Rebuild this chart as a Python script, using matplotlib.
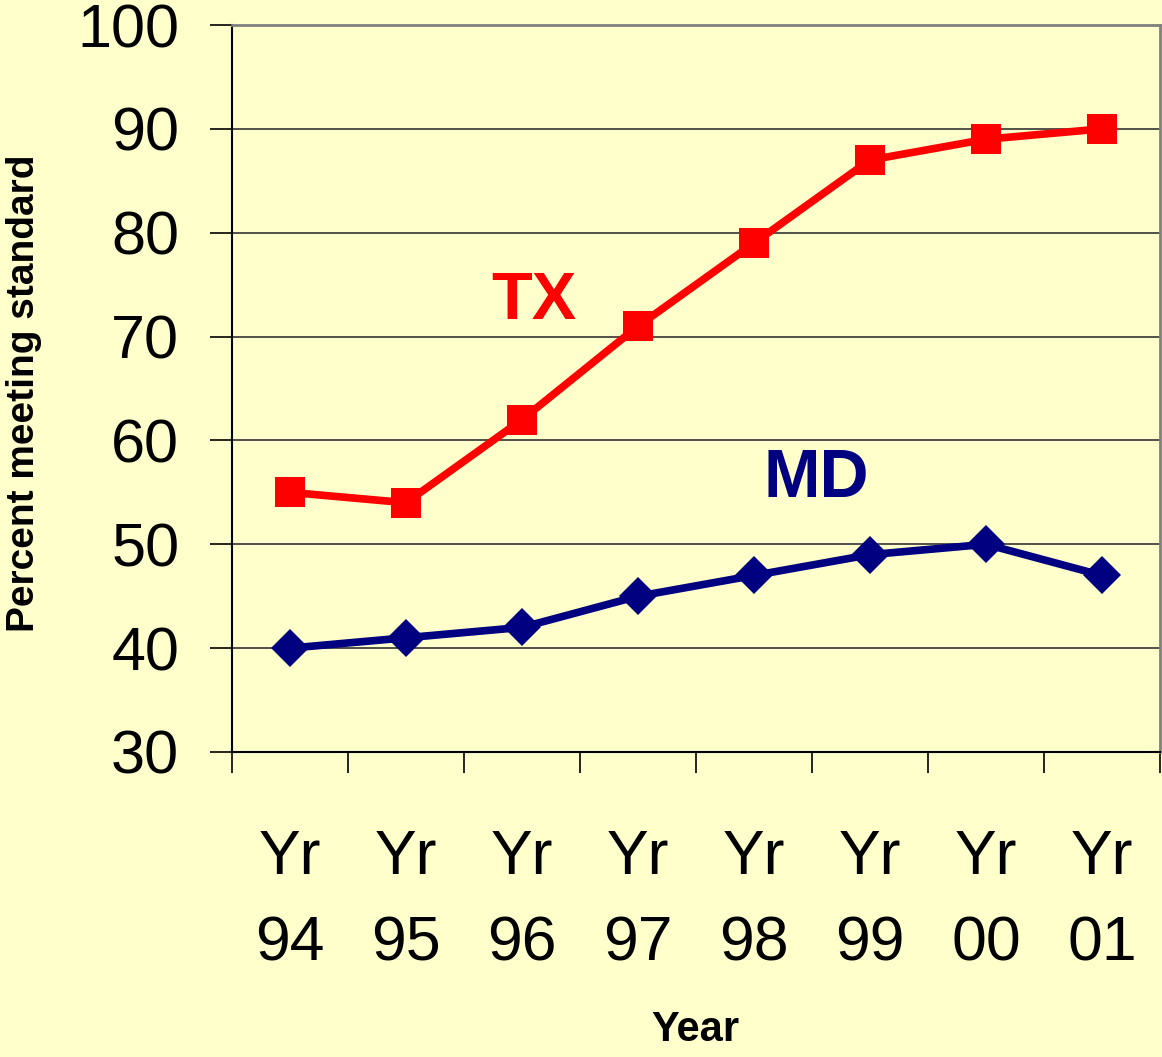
import matplotlib
matplotlib.use("Agg")
import matplotlib.pyplot as plt
import numpy as np

categories = ["Yr\n94", "Yr\n95", "Yr\n96", "Yr\n97", "Yr\n98", "Yr\n99", "Yr\n00", "Yr\n01"]
tx_values = [55, 54, 62, 71, 79, 87, 89, 90]
md_values = [40, 41, 42, 45, 47, 49, 50, 47]
y_ticks = [30, 40, 50, 60, 70, 80, 90, 100]

plt.rcParams['font.family'] = ['Liberation Sans', 'DejaVu Sans']
bg = '#FFFFCC'

fig = plt.figure(figsize=(11.62, 10.57), dpi=100, facecolor=bg)
ax = fig.add_axes([232/1162, 1 - 752/1057, (1160-232)/1162, (752-25)/1057])
ax.set_facecolor(bg)

x = np.arange(len(categories))
ax.plot(x, tx_values, color='#FF0000', lw=5.5, marker='s', ms=21, mew=0, zorder=3)
ax.plot(x, md_values, color='#000080', lw=5.5, marker='D', ms=19, mew=0, zorder=3)

ax.set_xlim(-0.5, len(categories) - 0.5)
ax.set_ylim(30, 100)
ax.set_yticks(y_ticks)
ax.tick_params(axis='y', labelsize=44, length=16, width=1.2, pad=22, direction='out', color='black')
ax.yaxis.grid(True, color='#333333', lw=1.2)
ax.set_axisbelow(True)

ax.set_xticks(np.arange(len(categories) + 1) - 0.5)
ax.set_xticklabels([])
ax.tick_params(axis='x', which='major', length=15, width=1.2, direction='out', color='black')
ax.set_xticks(x, minor=True)
ax.set_xticklabels(categories, minor=True, fontsize=45, linespacing=1.6)
ax.tick_params(axis='x', which='minor', length=0, pad=55)

for s in ['left', 'bottom']:
    ax.spines[s].set_color('black')
    ax.spines[s].set_linewidth(1.5)
for s in ['top', 'right']:
    ax.spines[s].set_color('#808080')
    ax.spines[s].set_linewidth(2)

fig.text(24/1162, 1 - 393/1057, 'Percent meeting standard', rotation=90, fontsize=28,
         fontweight='bold', ha='center', va='center')
fig.text(695/1162, 1 - 1030/1057, 'Year', fontsize=30, fontweight='bold', ha='center', va='center')

ax.text(2.1, 73.3, 'TX', color='#FF0000', fontsize=48, fontweight='bold', ha='center', va='center')
ax.text(4.54, 56.3, 'MD', color='#000080', fontsize=49, fontweight='bold', ha='center', va='center')

fig.savefig('out.png', dpi=100, facecolor=bg)
